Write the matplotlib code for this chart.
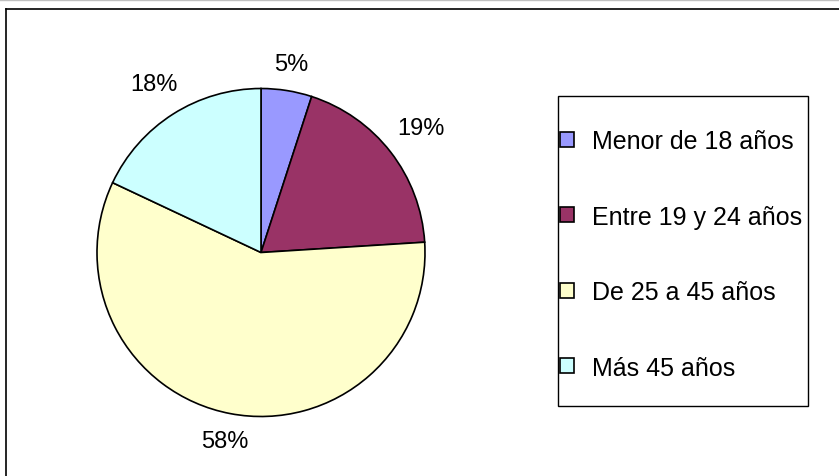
import matplotlib
matplotlib.use("Agg")
import numpy as np
import matplotlib.pyplot as plt
from matplotlib.patches import Rectangle
from matplotlib.lines import Line2D

plt.rcParams['font.family'] = ['Liberation Sans', 'DejaVu Sans']

# ---------- Datos ----------
grupos = ["Menor de 18 años", "Entre 19 y 24 años", "De 25 a 45 años", "Más 45 años"]
porcentajes = [5, 19, 58, 18]
colores = ["#9999FF", "#993366", "#FFFFCC", "#CCFFFF"]

W, H = 839, 477
fig = plt.figure(figsize=(W / 100, H / 100), dpi=100)

# marco exterior (solo arriba e izquierda visibles)
fig.add_artist(Line2D([0, 1], [1 - 0.5 / H, 1 - 0.5 / H], color="#c0c0c0", lw=1))
fig.add_artist(Line2D([6 / W, 1], [1 - 10 / H, 1 - 10 / H], color="black", lw=1.2))
fig.add_artist(Line2D([6 / W, 6 / W], [0, 1 - 10 / H], color="black", lw=1.2))

# ---------- Tarta ----------
r = 164
cx, cy = 261, 253.5
ax = fig.add_axes([(cx - r) / W, (H - cy - r) / H, 2 * r / W, 2 * r / H])
wedges, textos, pcts = ax.pie(
    porcentajes, colors=colores, startangle=90, counterclock=False,
    autopct='%.0f%%', pctdistance=1.17,
    wedgeprops=dict(edgecolor="black", linewidth=1.2),
    textprops=dict(fontsize=17),
)
ax.set_xlim(-1, 1)
ax.set_ylim(-1, 1)
ax.set_aspect("equal")
ax.axis("off")

# etiquetas fuera del borde, como en Excel (caja tocando el radio + margen)
fig.canvas.draw()
ren = fig.canvas.get_renderer()
for w, t in zip(wedges, pcts):
    t.set_clip_on(False)
    ang = np.radians((w.theta1 + w.theta2) / 2)
    bb = t.get_window_extent(ren)
    ext = abs(np.cos(ang)) * bb.width / 2 + abs(np.sin(ang)) * bb.height / 2
    d = (r + 13 + ext) / r
    t.set_position((d * np.cos(ang), d * np.sin(ang)))

# ---------- Leyenda ----------
fig.add_artist(Rectangle((558 / W, 1 - 407 / H), 250 / W, 310 / H,
                         transform=fig.transFigure, fill=False,
                         edgecolor="black", lw=1.0))
leg = fig.legend(wedges, grupos, loc="upper left",
                 bbox_to_anchor=(560 / W, 1 - 130 / H),
                 frameon=False, fontsize=18, handlelength=0.55, handleheight=0.55,
                 handletextpad=0.72, labelspacing=2.06, borderpad=0, borderaxespad=0)

fig.savefig("out.png", dpi=100)
